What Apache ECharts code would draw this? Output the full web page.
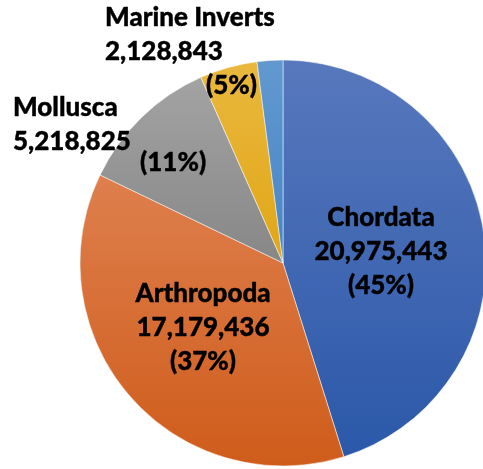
<!DOCTYPE html>
<html>
<head>
<meta charset="utf-8">
<script src="https://cdn.jsdelivr.net/npm/echarts@6/dist/echarts.min.js"></script>
<style>
  html, body { margin: 0; padding: 0; background: #fff; }
  #chart { width: 483px; height: 469px; }
</style>
</head>
<body>
<div id="chart"></div>
<script>
// data
var names = ['Chordata', 'Arthropoda', 'Mollusca', 'Marine Inverts', 'Other'];
var values = [20975443, 17179436, 5218825, 2128843, 950000];
var pctText = ['45%', '37%', '11%', '5%', ''];

// slice colours, top -> bottom of each slice
var colors = [['#5878bd', '#2b58a9'], ['#de7f4d', '#cf5c1b'], ['#a3a3a3', '#878787'],
              ['#eab83e', '#e0a616'], ['#6199cf', '#4785c6']];

// where each label sits (x, y, align)
var labelPos = [
  { x: 381, y: 252, align: 'center', verticalAlign: 'middle' },
  { x: 203, y: 328, align: 'center', verticalAlign: 'middle' },
  { x: 13, y: 91, align: 'left', verticalAlign: 'top' },
  { x: 105, y: 1, align: 'left', verticalAlign: 'top' },
  null
];

function fmt(v) {
  return v.toString().replace(/\B(?=(\d{3})+(?!\d))/g, ',');
}

var chart = echarts.init(document.getElementById('chart'));

var data = names.map(function (n, i) {
  var item = {
    name: n,
    value: values[i],
    itemStyle: {
      color: new echarts.graphic.LinearGradient(0, 0, 0, 1, [
        { offset: 0, color: colors[i][0] },
        { offset: 1, color: colors[i][1] }
      ])
    }
  };
  if (i === 2) {
    item.label = { formatter: '{n|' + n + '}\n{n|' + fmt(values[i]) + '}\n{p1|(' + pctText[i] + ')}' };
  } else if (i === 3) {
    item.label = { formatter: '{n|' + n + '}\n{n|' + fmt(values[i]) + '}\n{p2|(' + pctText[i] + ')}' };
  } else if (i === 4) {
    item.label = { show: false };
  } else {
    item.label = { formatter: '{n|' + n + '}\n{n|' + fmt(values[i]) + '}\n{n|(' + pctText[i] + ')}' };
  }
  return item;
});

var txt = {
  fontFamily: 'Lato', fontWeight: 900, fontSize: 26, color: '#000', lineHeight: 34,
  textBorderColor: '#000', textBorderWidth: 0.4
};

chart.setOption({
  animation: false,
  series: [{
    type: 'pie',
    center: [283, 263],
    radius: 203,
    startAngle: 90,
    clockwise: true,
    emphasis: { disabled: true },
    itemStyle: { borderColor: 'rgba(255,255,255,0.5)', borderWidth: 1 },
    label: {
      show: true,
      position: 'inside',
      rich: {
        n: txt,
        p1: Object.assign({}, txt, { lineHeight: 8, padding: [0, 0, 0, 127] }),
        p2: Object.assign({}, txt, { padding: [0, 0, 0, 101] })
      }
    },
    labelLine: { show: false },
    labelLayout: function (params) {
      var p = labelPos[params.dataIndex];
      return p ? { x: p.x, y: p.y, align: p.align, verticalAlign: p.verticalAlign } : {};
    },
    data: data
  }]
});
</script>
</body>
</html>
